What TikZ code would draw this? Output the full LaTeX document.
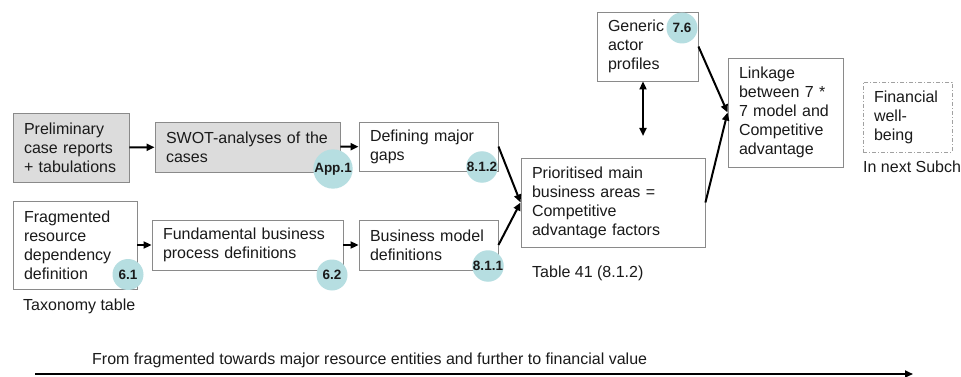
\documentclass[tikz,border=0pt]{standalone}
\usepackage{fontspec}
\setmainfont{Liberation Sans}
\usetikzlibrary{arrows.meta}
\definecolor{badge}{HTML}{B6DEE1}
\definecolor{shade}{HTML}{DCDCDC}
\definecolor{frame}{HTML}{8A8A8A}
\definecolor{ink}{HTML}{1A1A1A}

\begin{document}
\begin{tikzpicture}
  [x=1pt, y=-1pt,
   stage/.style 2 args={draw=frame, line width=0.9pt, fill=#1, text=ink,
     font=\fontsize{16}{19}\selectfont, align=left, inner xsep=11pt,
     text width=#2-22pt, minimum width=#2},
   badge/.style={circle, fill=badge, inner sep=0pt, minimum size=31pt,
     text=ink, font=\fontsize{13.5}{14}\bfseries},
   caption/.style={anchor=west, text=ink, inner sep=0pt,
     font=\fontsize{16}{19}\selectfont},
   flow/.style={line width=2pt, -{Triangle[length=8pt,width=7pt]}},
   twoway/.style={line width=2pt,
     {Triangle[length=8pt,width=7pt]}-{Triangle[length=8pt,width=7pt]}}]

  \useasboundingbox (0,0) rectangle (961,377);

  % upper row: case material
  \node [stage={shade}{116pt}, minimum height=69pt] (prelim) at (71,147.5)
    {Preliminary\\case reports\\+ tabulations};
  \node [stage={shade}{185pt}, minimum height=50pt] (swot) at (247.5,147)
    {SWOT-analyses of the\\cases};
  \node [stage={white}{139pt}, minimum height=49pt] (gaps) at (428.5,146.5)
    {Defining major\\gaps};

  % lower row: resource definitions
  \node [stage={white}{124pt}, minimum height=88pt] (fragm) at (75,245)
    {Fragmented\\resource\\dependency\\definition};
  \node [stage={white}{191pt}, minimum height=50pt] (fundam) at (247.5,245)
    {Fundamental business\\process definitions};
  \node [stage={white}{139pt}, minimum height=50pt] (bmodel) at (428.5,245)
    {Business model\\definitions};

  \node [stage={white}{184pt}, minimum height=89pt] (prio) at (613,202.5)
    {Prioritised main\\business areas =\\Competitive\\advantage factors};
  \node [stage={white}{101pt}, minimum height=69pt] (generic) at (647.5,46.5)
    {Generic\\actor\\profiles};
  \node [stage={white}{115pt}, minimum height=109pt] (linkage) at (785.5,112.5)
    {Linkage\\between 7 *\\7 model and\\Competitive\\advantage};
  \node [stage={white}{89pt}, minimum height=70pt, draw=frame!80,
    dash pattern=on 4pt off 2pt on 1pt off 2pt] (financial) at (907.5,117)
    {Financial\\well-\\being};

  % section numbers
  \node [badge] (b-app) at (333,169) {App.1};
  \node [badge] (b-61) at (128,274.5) {6.1};
  \node [badge] (b-62) at (332,275) {6.2};
  \node [badge] (b-812) at (482,167) {8.1.2};
  \node [badge] (b-811) at (488,266) {8.1.1};
  \node [badge] (b-76) at (682,28) {7.6};

  \node [caption] (taxonomy) at (23,306) {Taxonomy table};
  \node [caption] (table41) at (532,273) {Table 41 (8.1.2)};
  \node [caption] (nextsub) at (863,167) {In next Subch};

  \draw [flow] (prelim) -- (swot);
  \draw [flow] (swot) -- (gaps);
  \draw [flow] (fragm) -- (fundam);
  \draw [flow] (fundam) -- (bmodel);
  \draw [flow] (gaps.east) -- (prio.west);
  \draw [flow] (bmodel.east) -- (prio.west);
  \draw [flow] (generic.east) -- (linkage.west);
  \draw [flow] (prio.east) -- (linkage.west);

  \coordinate (actorlink) at (643,136);
  \draw [twoway] (generic.south -| actorlink) -- (actorlink);

  % overall direction
  \coordinate (flowstart) at (35,374);
  \coordinate (flowend) at (913,374);
  \node [caption] (direction) at (92,360)
    {From fragmented towards major resource entities and further to financial value};
  \draw [flow, line width=2.5pt] (flowstart) -- (flowend);
\end{tikzpicture}
\end{document}
